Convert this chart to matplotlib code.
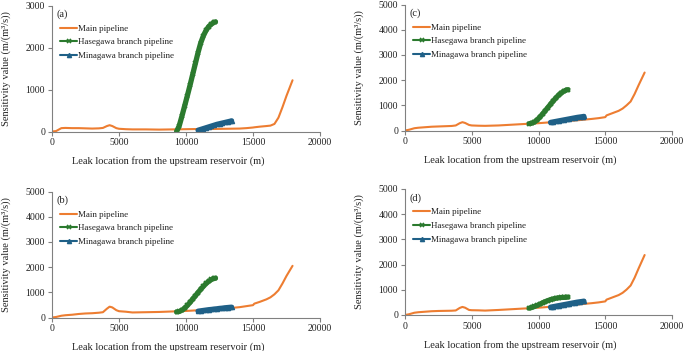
import matplotlib
matplotlib.use("Agg")
import matplotlib.pyplot as plt

plt.rcParams['font.family'] = ['Liberation Serif', 'DejaVu Serif']

# ---------------- data ----------------
x_main = [0, 300, 700, 1000, 1500, 2000, 2500, 3000, 3500, 3800, 4100, 4300, 4500, 4800,
          5000, 5500, 6000, 7000, 8000, 9000, 10000, 11000, 12000, 13000, 14000, 14500,
          15000, 15100, 15500, 16000, 16300, 16600, 16900, 17200, 17500, 17950]
x_hase = [9300, 9500, 9700, 9900, 10100, 10300, 10500, 10700, 10900, 11100, 11300,
          11500, 11700, 11900, 12100, 12200]
x_mina = [10900, 11100, 11300, 11500, 11700, 11900, 12100, 12300, 12500, 12700, 12900,
          13100, 13300, 13400]

main_a = [0, 10, 80, 85, 80, 80, 75, 70, 75, 85, 130, 150, 130, 80, 65, 55, 50, 50, 45,
          50, 55, 60, 60, 65, 70, 80, 95, 100, 115, 130, 140, 180, 330, 580, 850, 1220]
hase_a = [0, 140, 370, 610, 850, 1100, 1360, 1620, 1880, 2110, 2280, 2410, 2500, 2560,
          2600, 2610]
mina_a = [30, 50, 70, 90, 110, 130, 150, 170, 185, 200, 215, 230, 245, 255]

main_b = [0, 20, 70, 90, 110, 140, 160, 170, 190, 210, 350, 430, 400, 290, 250, 230, 200,
          210, 220, 240, 260, 290, 320, 360, 410, 450, 490, 550, 620, 720, 800, 920, 1080,
          1350, 1650, 2050]
hase_b = [220, 240, 290, 370, 480, 600, 730, 860, 990, 1120, 1240, 1350, 1440, 1510,
          1550, 1560]
mina_b = [250, 265, 280, 295, 310, 320, 335, 345, 360, 370, 385, 395, 405, 410]

main_c = [0, 30, 90, 110, 130, 150, 160, 170, 180, 200, 290, 330, 300, 220, 200, 190, 185,
          200, 230, 260, 290, 330, 370, 410, 460, 490, 530, 600, 680, 780, 870, 1000, 1150,
          1450, 1800, 2300]
hase_c = [270, 290, 340, 420, 530, 650, 780, 910, 1040, 1170, 1290, 1400, 1490, 1560,
          1610, 1620]
mina_c = [320, 340, 360, 380, 400, 420, 440, 460, 480, 500, 520, 535, 550, 560]

main_d = [0, 30, 90, 110, 130, 150, 160, 165, 170, 180, 280, 320, 290, 200, 190, 185, 175,
          200, 230, 260, 290, 330, 380, 420, 470, 500, 540, 610, 690, 790, 880, 1010, 1170,
          1480, 1850, 2380]
hase_d = [270, 300, 340, 380, 430, 480, 530, 570, 610, 640, 665, 680, 695, 700, 705, 710]
mina_d = [310, 330, 350, 370, 390, 410, 430, 450, 470, 490, 510, 525, 540, 550]

panels = [
    ("(a)", main_a, hase_a, mina_a, 3000, [0, 1000, 2000, 3000]),
    ("(b)", main_b, hase_b, mina_b, 5000, [0, 1000, 2000, 3000, 4000, 5000]),
    ("(c)", main_c, hase_c, mina_c, 5000, [0, 1000, 2000, 3000, 4000, 5000]),
    ("(d)", main_d, hase_d, mina_d, 5000, [0, 1000, 2000, 3000, 4000, 5000]),
]
xticks = [0, 5000, 10000, 15000, 20000]
labels = ["Main pipeline", "Hasegawa branch pipeline", "Minagawa branch pipeline"]

# ---------------- figure ----------------
W, H = 685, 351
fig = plt.figure(figsize=(W / 100, H / 100), dpi=100)

# axes boxes in pixels: left, top, right, bottom
boxes = {
    "(a)": (52, 5.5, 320, 131.5),
    "(b)": (52, 191.5, 320, 317.5),
    "(c)": (405, 4.5, 672, 130.5),
    "(d)": (405, 189, 672, 315),
}

c_main = "#ED7D31"
c_hase = "#2B7A2E"
c_mina = "#1F6087"
spine_c = "#808080"

for tag, mv, hv, nv, ymax, yt in panels:
    l, t, r, b = boxes[tag]
    ax = fig.add_axes([l / W, 1 - b / H, (r - l) / W, (b - t) / H])
    ax.plot(x_main, mv, color=c_main, lw=1.5, label=labels[0], solid_capstyle='round')
    ax.plot(x_hase, hv, color=c_hase, lw=3.8, marker='x', ms=3.5, mew=1.2,
            label=labels[1], solid_capstyle='round')
    ax.plot(x_mina, nv, color=c_mina, lw=3.8, marker='^', ms=3,
            label=labels[2], solid_capstyle='round')
    ax.set_xlim(0, 20000)
    ax.set_ylim(0, ymax)
    ax.set_xticks(xticks)
    ax.set_yticks(yt)
    for s in ['top', 'right']:
        ax.spines[s].set_visible(False)
    for s in ['left', 'bottom']:
        ax.spines[s].set_color(spine_c)
        ax.spines[s].set_linewidth(0.8)
    ax.tick_params(axis='both', direction='out', length=3, width=0.8, color=spine_c,
                   labelsize=7, pad=2, labelcolor='#222222')
    ax.set_xlabel("Leak location from the upstream reservoir (m)", fontsize=7.5,
                  color='#222222')
    ax.xaxis.set_label_coords(0.432, -0.195)
    ax.set_ylabel("Sensitivity value (m/(m³/s))", fontsize=7.5, color='#222222')
    ax.yaxis.set_label_coords(-0.153, 0.5)
    ax.text(0.015, 0.93, tag, transform=ax.transAxes, fontsize=7.5, va='center',
            ha='left', color='#222222')
    leg = ax.legend(loc='upper left', bbox_to_anchor=(0.03, 0.85), frameon=False,
                    fontsize=6.5, handlelength=1.9, handletextpad=0.1, numpoints=1,
                    labelspacing=0.6, borderaxespad=0, borderpad=0)
    for h in leg.get_lines():
        h.set_linewidth(1.5)
    for txt in leg.get_texts():
        txt.set_color('#222222')

fig.savefig("out.png", dpi=100)
